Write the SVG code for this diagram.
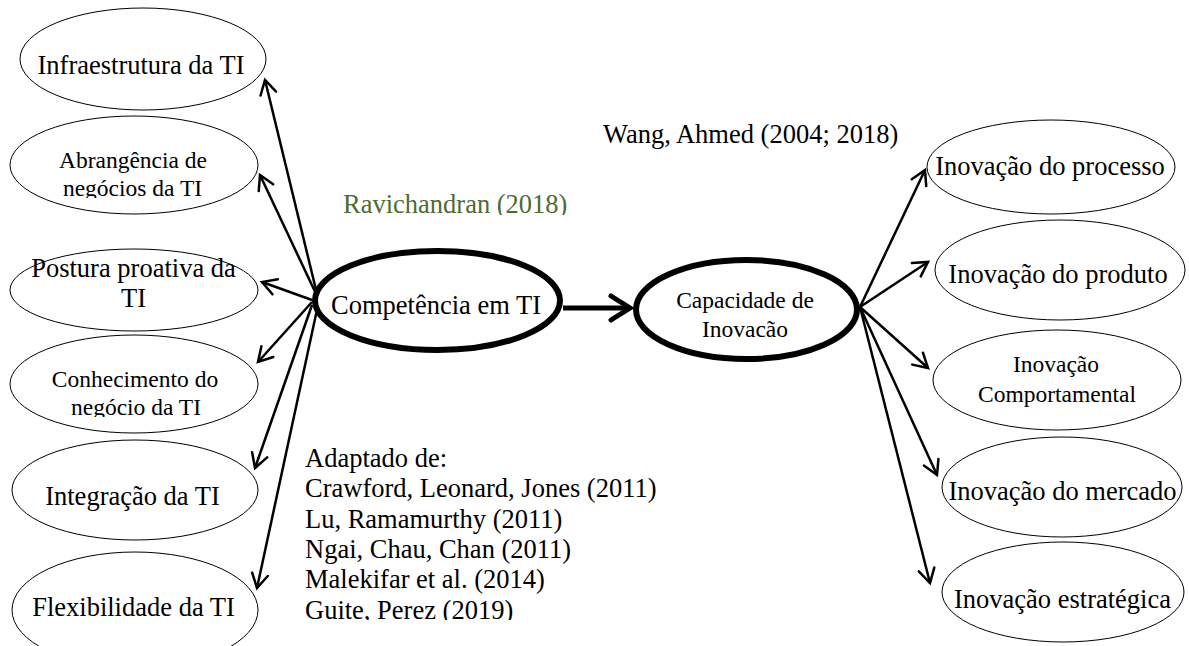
<svg xmlns="http://www.w3.org/2000/svg" width="1189" height="646" viewBox="0 0 1189 646">
<style>
text{font-family:"Liberation Serif","Times New Roman",serif;fill:#000}
.lg{font-size:26.5px}
.sm{font-size:23.5px}
.node{fill:#fff;stroke:#000;stroke-width:1}
.thick{fill:#fff;stroke:#000;stroke-width:6}
.c{stroke:#000;stroke-width:2.5;fill:none}
.main{stroke:#000;stroke-width:5;fill:none}
</style>
<defs>
<marker id="ah" markerUnits="userSpaceOnUse" markerWidth="20" markerHeight="20" viewBox="0 0 20 20" refX="17" refY="10" orient="auto">
<path d="M3,2 L17,10 L3,18" fill="none" stroke="#000" stroke-width="2.5" stroke-linecap="round" stroke-linejoin="miter"/>
</marker>
<marker id="ahm" markerUnits="userSpaceOnUse" markerWidth="30" markerHeight="30" viewBox="0 0 30 30" refX="24" refY="15" orient="auto">
<path d="M5,3 L24,15 L5,27" fill="none" stroke="#000" stroke-width="5" stroke-linecap="round"/>
</marker>
<clipPath id="clipA"><rect x="0" y="0" width="300" height="198"/></clipPath>
<clipPath id="clipC"><rect x="0" y="330" width="300" height="87"/></clipPath>
<clipPath id="clipR"><rect x="320" y="150" width="300" height="65"/></clipPath>
<clipPath id="clipG"><rect x="290" y="440" width="400" height="180"/></clipPath>
</defs>
<rect width="1189" height="646" fill="#fff"/>

<g id="connectors">
<line class="c" x1="318" y1="298" x2="265" y2="80" marker-end="url(#ah)"/>
<line class="c" x1="318" y1="298" x2="260" y2="175" marker-end="url(#ah)"/>
<line class="c" x1="312" y1="300" x2="262" y2="282" marker-end="url(#ah)"/>
<line class="c" x1="312" y1="302" x2="258" y2="362" marker-end="url(#ah)"/>
<line class="c" x1="312" y1="305" x2="255" y2="468" marker-end="url(#ah)"/>
<line class="c" x1="318" y1="305" x2="257" y2="588" marker-end="url(#ah)"/>
<line class="main" x1="563" y1="308" x2="630" y2="308" marker-end="url(#ahm)"/>
<line class="c" x1="860" y1="307" x2="925" y2="170" marker-end="url(#ah)"/>
<line class="c" x1="860" y1="307" x2="928" y2="262" marker-end="url(#ah)"/>
<line class="c" x1="860" y1="307" x2="928" y2="368" marker-end="url(#ah)"/>
<line class="c" x1="860" y1="307" x2="937" y2="475" marker-end="url(#ah)"/>
<line class="c" x1="860" y1="307" x2="930" y2="583" marker-end="url(#ah)"/>
</g>

<g id="n-infra">
<ellipse class="node" cx="143" cy="59" rx="123" ry="51"/>
<text class="lg" x="141" y="74" text-anchor="middle">Infraestrutura da TI</text>
</g>
<g id="n-abrangencia">
<ellipse class="node" cx="134" cy="165" rx="124" ry="49"/>
<text class="sm" x="133" y="168" text-anchor="middle">Abrangência de</text>
<text class="sm" x="132.5" y="196" text-anchor="middle" clip-path="url(#clipA)">negócios da TI</text>
</g>
<g id="n-postura">
<ellipse class="node" cx="134" cy="290" rx="124" ry="41"/>
<text class="lg" x="133.5" y="277" text-anchor="middle">Postura proativa da</text>
<text class="lg" x="133.5" y="307" text-anchor="middle">TI</text>
</g>
<g id="n-conhecimento">
<ellipse class="node" cx="134" cy="384" rx="124" ry="49"/>
<text class="sm" x="135" y="387" text-anchor="middle">Conhecimento do</text>
<text class="sm" x="136" y="415" text-anchor="middle" clip-path="url(#clipC)">negócio da TI</text>
</g>
<g id="n-integracao">
<ellipse class="node" cx="135" cy="490" rx="123" ry="50"/>
<text class="lg" x="132.5" y="505" text-anchor="middle">Integração da TI</text>
</g>
<g id="n-flexibilidade">
<ellipse class="node" cx="135" cy="610" rx="123" ry="58"/>
<text class="lg" x="133.5" y="616" text-anchor="middle">Flexibilidade da TI</text>
</g>

<g id="n-competencia">
<ellipse class="thick" cx="437.5" cy="300.5" rx="122.5" ry="49.5"/>
<text class="lg" x="436" y="314" text-anchor="middle">Competência em TI</text>
</g>
<g id="n-capacidade">
<ellipse class="thick" cx="746.5" cy="309.5" rx="110.5" ry="49.5"/>
<text class="sm" x="745" y="308" text-anchor="middle">Capacidade de</text>
<text class="sm" x="745" y="337" text-anchor="middle">Inovacão</text>
</g>

<g id="n-processo">
<ellipse class="node" cx="1051" cy="167" rx="124" ry="47"/>
<text class="lg" x="1050" y="175" text-anchor="middle">Inovação do processo</text>
</g>
<g id="n-produto">
<ellipse class="node" cx="1060" cy="270" rx="125" ry="50"/>
<text class="lg" x="1058" y="283" text-anchor="middle">Inovação do produto</text>
</g>
<g id="n-comportamental">
<ellipse class="node" cx="1057" cy="380" rx="124" ry="50"/>
<text class="sm" x="1056" y="372" text-anchor="middle">Inovação</text>
<text class="sm" x="1057" y="402" text-anchor="middle">Comportamental</text>
</g>
<g id="n-mercado">
<ellipse class="node" cx="1062" cy="487" rx="120" ry="50"/>
<text class="lg" x="1062.5" y="500" text-anchor="middle">Inovação do mercado</text>
</g>
<g id="n-estrategica">
<ellipse class="node" cx="1063" cy="592" rx="121" ry="50"/>
<text class="lg" x="1062.5" y="608" text-anchor="middle">Inovação estratégica</text>
</g>

<g id="labels">
<text class="lg" x="603" y="143">Wang, Ahmed (2004; 2018)</text>
<text class="lg" x="343" y="213" fill="#4e6b30" style="fill:#4e6b30" clip-path="url(#clipR)">Ravichandran (2018)</text>
<g clip-path="url(#clipG)">
<text class="lg" x="305" y="467">Adaptado de:</text>
<text class="lg" x="305" y="497">Crawford, Leonard, Jones (2011)</text>
<text class="lg" x="305" y="528">Lu, Ramamurthy (2011)</text>
<text class="lg" x="305" y="558">Ngai, Chau, Chan (2011)</text>
<text class="lg" x="305" y="588">Malekifar et al. (2014)</text>
<text class="lg" x="305" y="619">Guite, Perez (2019)</text>
</g>
</g>
</svg>
